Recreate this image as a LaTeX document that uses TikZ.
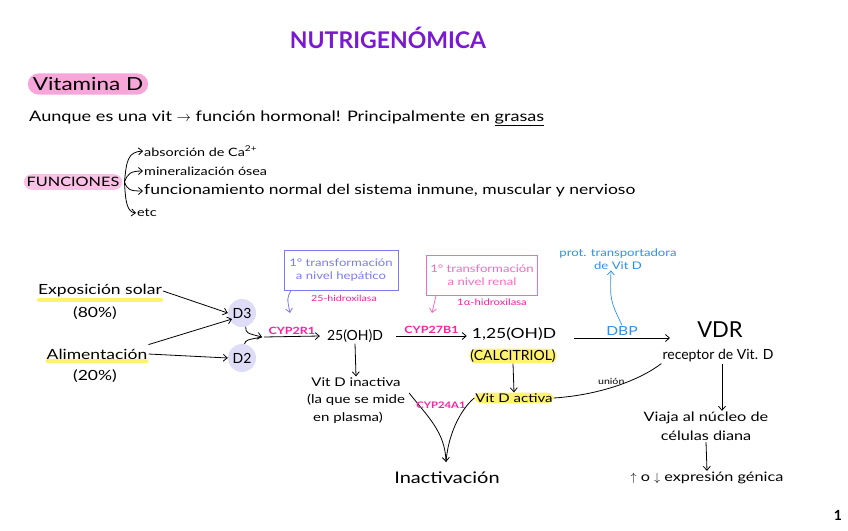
\documentclass[tikz,border=0pt]{standalone}
\usepackage{fontspec}
\setmainfont{Lato}[FakeStretch=1.25]
\newfontfamily\plainfont{Lato}
\usetikzlibrary{arrows.meta,backgrounds}
\definecolor{titlepurple}{HTML}{7A1AD0}
\definecolor{hlpink}{HTML}{F7A6DA}
\definecolor{hlyellow}{HTML}{FFF36E}
\definecolor{enzpink}{HTML}{FF1FA0}
\definecolor{boxblue}{HTML}{7B7BF2}
\definecolor{boxpink}{HTML}{F46CC0}
\definecolor{dbpblue}{HTML}{2F8EF0}
\definecolor{lav}{HTML}{DEDCF7}
\newcommand{\fs}[1]{\fontsize{#1pt}{\dimexpr #1pt*6/5\relax}\selectfont}
\begin{document}
\begin{tikzpicture}[x=1pt,y=-1pt,
  txt/.style={inner sep=1pt, font=\fs{14}},
  sm/.style={inner sep=1pt, font=\fs{12}},
  enz/.style={inner sep=1pt, text=enzpink, font=\bfseries\fs{10}},
  hyd/.style={inner sep=1pt, text=enzpink, font=\fs{8.5}},
  arr/.style={-{Straight Barb[length=4pt,width=7pt]}, line width=0.8pt},
  ln/.style={line width=0.8pt},
  circ/.style={circle, fill=lav, minimum size=28pt, inner sep=0pt, font=\plainfont\fs{14}},
  yline/.style={hlyellow, line width=4pt, line cap=round},
  ybox/.style={fill=hlyellow, rounded corners=7pt, inner sep=2pt},
  tbox/.style={draw, line width=1pt, inner sep=4pt, align=center, font=\fs{10.5}}]
\useasboundingbox (0,0) rectangle (848,530);
\begin{scope}[on background layer]
\fill[white] (0,0) rectangle (848,530);
\end{scope}

% title
\node[text=titlepurple, font=\plainfont\bfseries\fs{23}] (title) at (388,38) {NUTRIGENÓMICA};

% Vitamina D
\node[fill=hlpink, rounded corners=11pt, inner xsep=5pt, inner ysep=4pt, font=\fs{18}] (vitd) at (88,84) {Vitamina D};

% intro line
\node[txt, anchor=west, font=\fs{14.5}] (intro) at (28,118) {Aunque es una vit $\rightarrow$ función hormonal! Principalmente en \underline{grasas}};

% funciones
\node[fill=hlpink!70, rounded corners=8pt, inner sep=3pt, font=\fs{13}] (func) at (73,182) {FUNCIONES};
\node[txt, anchor=west, font=\fs{11.5}] (f1) at (143,151) {absorción de Ca\textsuperscript{2+}};
\node[txt, anchor=west, font=\fs{11.5}] (f2) at (143,171) {mineralización ósea};
\node[txt, anchor=west, font=\fs{14}] (f3) at (143,191) {funcionamiento normal del sistema inmune, muscular y nervioso};
\node[txt, anchor=west, font=\fs{11.5}] (f4) at (136,213) {etc};
\coordinate (fo) at ([xshift=2pt]func.east);
\draw[arr] (fo) .. controls ([xshift=2pt]fo |- 0,160) and (128,152) .. (f1.west);
\draw[arr] (fo) .. controls ([xshift=3pt]fo |- 0,174) and (130,171) .. (f2.west);
\draw[arr] (fo) .. controls ([xshift=3pt]fo |- 0,190) and (130,191) .. (f3.west);
\draw[arr] (fo) .. controls ([xshift=1pt]fo |- 0,202) and (127,212) .. (f4.west);

% sources
\node[txt] (expo) at (100,291) {Exposición solar};
\node[txt] (p80) at (95,313) {(80\%)};
\node[txt] (alim) at (97,354) {Alimentación};
\node[txt] (p20) at (95,376) {(20\%)};
\begin{scope}[on background layer]
\draw[yline] ([xshift=2pt,yshift=-1pt]expo.south west) -- ([xshift=-2pt,yshift=-1pt]expo.south east);
\draw[yline] ([xshift=2pt,yshift=-1pt]alim.south west) -- ([xshift=-2pt,yshift=-1pt]alim.south east);
\end{scope}

\node[circ] (d3) at (242,313) {D3};
\node[circ] (d2) at (242,358) {D2};
\draw[arr] (expo.east) -- (d3.west);
\draw[arr] ([yshift=3pt]alim.north east) -- ([yshift=4pt]d3.south west);
\draw[arr] (alim.east) -- (d2.west);
\coordinate (m) at (262,337);
\draw[arr] (d3.-75) .. controls (246,333) .. (m);
\draw[ln] (d2.80) .. controls (246,340) .. (m);

% 25(OH)D
\node[txt, font=\plainfont\fs{14}] (h25) at (355,336) {25(OH)D};
\draw[arr] ([xshift=2pt]m) -- node[enz, above=1pt] (cyp2r1) {CYP2R1} ([xshift=-6pt]h25.west);

\node[tbox, draw=boxblue, text=boxblue, minimum width=114pt, minimum height=40pt] (bbox) at (341,270) {1° transformación\\ a nivel hepático};
\node[hyd] (hid25) at (344,298) {25-hidroxilasa};
\coordinate (bt) at (290,313);
\draw[arr, boxblue] ([xshift=-50pt]bbox.south) .. controls (287,298) .. (bt);

\node[sm] (inact) at (356,382) {Vit D inactiva};
\node[sm] (inact2) at (356,400) {(la que se mide};
\node[sm] (inact3) at (348,418) {en plasma)};
\draw[arr] (h25.south) -- (inact.north);

% 1,25(OH)D
\node[txt] (h125) at (514,334) {1,25(OH)D};
\draw[arr] (h25.east) ++(12pt,0) coordinate (c2s) -- node[enz, above=1pt] (cyp27) {CYP27B1} ([xshift=-4pt]h125.west |- c2s);
\node[ybox, txt, font=\plainfont\fs{14}] (calc) at (513,356) {(CALCITRIOL)};
\node[tbox, draw=boxpink, text=boxpink, minimum width=110pt, minimum height=40pt] (pbox) at (482,275) {1° transformación\\ a nivel renal};
\node[hyd, font=\fs{9}] (hid1) at (492,302) {1α-hidroxilasa};
\coordinate (pt) at (432,313);
\draw[arr, boxpink] ([xshift=-46pt]pbox.south) .. controls (434,303) .. (pt);

\node[ybox, sm] (act) at (514,398) {Vit D activa};
\draw[arr] (calc.south) -- (act.north);

% DBP / VDR
\node[txt, font=\plainfont\fs{22}] (vdr) at (720,330) {VDR};
\node[txt, font=\plainfont\fs{14}] (rec) at (718,356) {receptor de Vit. D};
\coordinate (dbps) at (574,338);
\coordinate (dbpe) at (670,338);
\draw[arr] (dbps) -- node[above=1pt, inner sep=1pt, text=dbpblue, font=\fs{12.5}] (dbp) {DBP} (dbpe);
\node[inner sep=1pt, text=dbpblue, font=\fs{10.5}, align=center] (prot) at (618,259) {prot. transportadora\\de Vit D};
\draw[arr, dbpblue, line width=0.7pt] (dbp.north) .. controls (610,300) .. (prot.south -| 611,0);

% union
\draw[ln] (act.east) .. controls (600,395) and (640,380) .. (rec.south west) node[pos=0.45, above=2pt, inner sep=1pt, font=\fs{8.5}] (union) {unión};

% nucleus
\node[sm, font=\fs{13}] (viaja) at (706,418) {Viaja al núcleo de};
\node[sm, font=\fs{13}] (cel) at (706,436) {células diana};
\draw[arr] (rec.south -| 722,0) -- (viaja.north -| 722,0);
\node[txt, font=\fs{13}] (expr) at (707,478) {$\uparrow$ o $\downarrow$ expresión génica};
\draw[arr] (cel.south) -- (expr.north);

% inactivation
\node[txt, font=\fs{16}] (inactv) at (447,478) {Inactivación};
\coordinate (ia) at (446,462);
\draw[arr] (inact2.east) ++(3pt,7pt) .. controls (428,417) and (445,432) .. (ia);
\draw[ln] (act.west) .. controls (460,410) and (448,435) .. (ia);
\node[enz, font=\bfseries\fs{9}] (cyp24) at (441,405) {CYP24A1};

% page number
\node[inner sep=0pt, font=\plainfont\bfseries\fs{14}] (pg) at (838,515) {1};
\end{tikzpicture}
\end{document}
